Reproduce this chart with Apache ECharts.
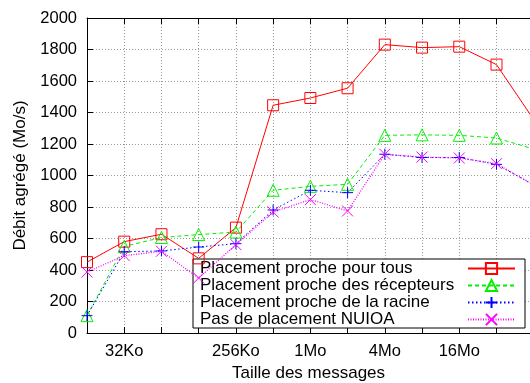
<!DOCTYPE html>
<html><head><meta charset="utf-8">
<script src="https://cdn.jsdelivr.net/npm/echarts@6/dist/echarts.min.js"></script>
<style>html,body{margin:0;padding:0;background:#fff}#c{width:530px;height:383px}</style>
</head><body><div id="c"></div>
<script>
// message sizes in Ko (16Ko .. 64Mo)
const sizesKo = [16, 32, 64, 128, 256, 512, 1024, 2048, 4096, 8192, 16384, 32768, 65536];
const tickSizesKo = [32, 256, 1024, 4096, 16384];
const tickLabels = ['32Ko', '256Ko', '1Mo', '4Mo', '16Mo'];
const seriesNames = ['Placement proche pour tous', 'Placement proche des récepteurs', 'Placement proche de la racine', 'Pas de placement NUIOA'];
const procheTous = [450, 580, 627, 474, 669, 1446, 1492, 1554, 1831, 1812, 1818, 1704, 1355];
const procheRecepteurs = [110, 550, 606, 625, 641, 906, 931, 944, 1255, 1258, 1255, 1238, 1168];
const procheRacine = [110, 516, 521, 546, 567, 781, 906, 891, 1135, 1114, 1114, 1071, 940];
const pasNUIOA = [387, 491, 519, 349, 561, 768, 847, 775, 1135, 1117, 1111, 1075, 940];

const FONT = 'Liberation Sans';
const xs = sizesKo.map(s => Math.log2(s));
const tickMap = {};
tickSizesKo.forEach((s, i) => { tickMap[Math.log2(s)] = tickLabels[i]; });
const pair = vals => vals.map((v, i) => [xs[i], v]);
const xMin = xs[0], xMax = xs[0] + 11.9;

const plusPath = 'path://M0,5L10,5M5,0L5,10';
const crossPath = 'path://M0,0L10,10M10,0L0,10';
function mk(name, vals, color, type, symbol, size, width) {
  return {
    name, type: 'line', data: pair(vals), symbol, symbolSize: size,
    lineStyle: { color, width: width, type },
    itemStyle: { color: 'rgba(0,0,0,0)', borderColor: color, borderWidth: 1 },
    emphasis: { disabled: true }, animation: false, clip: true, z: 5, zlevel: 0
  };
}
const chart = echarts.init(document.getElementById('c'), null, { renderer: 'canvas' });
chart.setOption({
  animation: false,
  grid: { left: 87, right: 0, top: 18, bottom: 50, outerBoundsMode: 'none', containLabel: false },
  legend: {
    orient: 'vertical', left: 193, top: 259, align: 'right', z: 1, zlevel: 0,
    padding: [1, 9, 0, 7], itemGap: 0, itemWidth: 47, itemHeight: 14,
    backgroundColor: '#fff', borderColor: '#000', borderWidth: 1,
    formatter: n => '{t|' + n + '}',
    textStyle: { fontFamily: FONT, fontSize: 17, lineHeight: 17, color: '#000',
      rich: { t: { fontFamily: FONT, fontSize: 17, lineHeight: 17, color: '#000', width: 263, align: 'left' } } },
    selectedMode: false,
    data: seriesNames
  },
  xAxis: [{
    type: 'value', min: xMin, max: xMax, interval: 1,
    name: 'Taille des messages', nameLocation: 'middle', nameGap: 32,
    nameTextStyle: { fontFamily: FONT, fontSize: 17, color: '#000' },
    axisLine: { show: true, lineStyle: { color: '#000', width: 1 } },
    axisTick: { show: true, inside: true, length: 6, lineStyle: { color: '#000' } },
    axisLabel: { fontFamily: FONT, fontSize: 16.5, color: '#000', margin: 10, showMaxLabel: false,
      formatter: v => tickMap[v] || '' },
    splitLine: { show: true, lineStyle: { color: '#999', type: [1, 2], width: 1 } }
  }, {
    type: 'value', position: 'top', min: xMin, max: xMax, interval: 1,
    axisLine: { show: true, onZero: false, lineStyle: { color: '#000', width: 1 } },
    axisTick: { show: true, inside: true, length: 6, lineStyle: { color: '#000' } },
    axisLabel: { show: false }, splitLine: { show: false }
  }],
  yAxis: {
    type: 'value', min: 0, max: 2000, interval: 200,
    name: 'Débit agrégé (Mo/s)', nameLocation: 'middle', nameGap: 58, nameRotate: 90,
    nameTextStyle: { fontFamily: FONT, fontSize: 17, color: '#000' },
    axisLine: { show: true, lineStyle: { color: '#000', width: 1 } },
    axisTick: { show: true, inside: true, length: 6, lineStyle: { color: '#000' } },
    axisLabel: { fontFamily: FONT, fontSize: 16.5, color: '#000', margin: 10, formatter: v => String(v) },
    splitLine: { show: true, lineStyle: { color: '#999', type: [1, 2], width: 1 } }
  },
  series: [
    mk(seriesNames[0], procheTous, '#ff0000', 'solid', 'rect', 11, 1),
    mk(seriesNames[1], procheRecepteurs, '#00f000', [4, 3], 'triangle', 12, 1),
    mk(seriesNames[2], procheRacine, '#0000ff', [1.5, 2.5], plusPath, 11, 1),
    mk(seriesNames[3], pasNUIOA, '#ff00ff', [1, 1.5], crossPath, 11, 1.3)
  ]
});
</script></body></html>
